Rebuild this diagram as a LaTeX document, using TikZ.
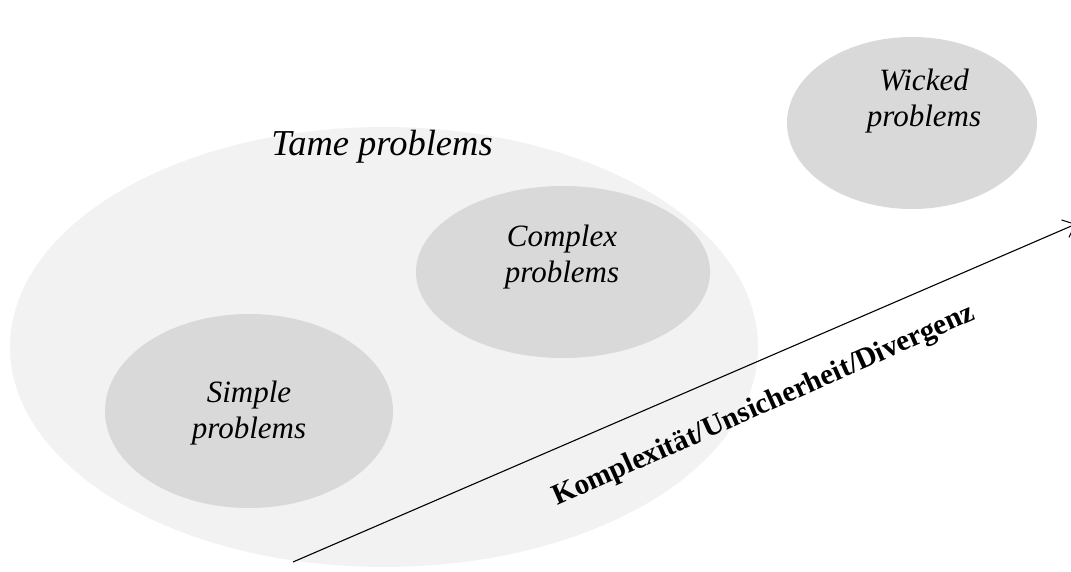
\documentclass[tikz,border=0pt]{standalone}
\usepackage{fontspec}
\setmainfont{Liberation Serif}
\usetikzlibrary{arrows.meta}
\definecolor{outerfill}{HTML}{F2F2F2}
\definecolor{innerfill}{HTML}{D9D9D9}
\tikzset{
  outerblob/.style={fill=outerfill, draw=none},
  innerblob/.style={fill=innerfill, draw=none},
  blobtext/.style={align=center, font=\itshape\fontsize{31}{36}\selectfont, inner sep=0pt},
  axisline/.style={line width=1.1pt, -{Straight Barb[length=11pt,width=19pt,line width=1pt]}},
  axistext/.style={font=\bfseries\fontsize{29.3}{34}\selectfont, inner sep=0pt}
}
\begin{document}
\begin{tikzpicture}[x=1pt,y=-1pt]
  \useasboundingbox (0,0) rectangle (1071,572);
  % regions
  \fill[outerblob] (384,347) ellipse [x radius=374pt, y radius=220pt];
  \fill[innerblob] (563,272) ellipse [x radius=147pt, y radius=86pt];
  \fill[innerblob] (249,411) ellipse [x radius=144pt, y radius=97pt];
  \fill[innerblob] (912,123) ellipse [x radius=125pt, y radius=86pt];
  % labels (base anchor sits on the last line)
  \node[font=\itshape\fontsize{36.5}{40}\selectfont, inner sep=0pt, anchor=base] (tame) at (382,156) {Tame problems};
  \node[blobtext, anchor=base] (complex) at (562,283) {Complex\\problems};
  \node[blobtext, anchor=base] (simple) at (249,438) {Simple\\problems};
  \node[blobtext, anchor=base] (wicked) at (924,127) {Wicked\\problems};
  % axis
  \coordinate (axstart) at (293,562);
  \coordinate (axend) at (1076,224);
  \draw[axisline] (axstart) -- (axend);
  \node[axistext, rotate=24] (axlabel) at (764,406) {Komplexität/Unsicherheit/Divergenz};
\end{tikzpicture}
\end{document}
